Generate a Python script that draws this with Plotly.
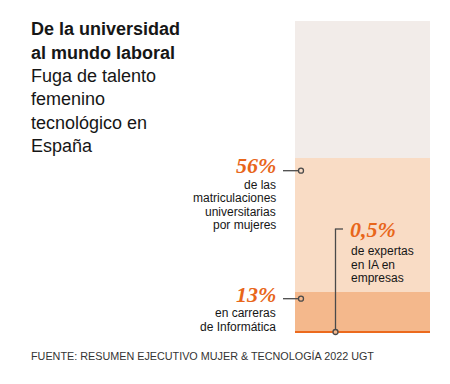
import plotly.graph_objects as go

# ---- data ----
series = ["Total", "Matriculaciones universitarias por mujeres",
          "Mujeres en carreras de Informática", "Expertas en IA en empresas"]
values = [100, 56, 13, 0.5]
bar_colors = ["#f2ece9", "#f9dcc5", "#f4b88c", "#ec6a1d"]

title_bold = ["De la universidad", "al mundo laboral"]
title_regular = ["Fuga de talento", "femenino", "tecnológico en", "España"]
pct_labels = ["56%", "13%", "0,5%"]
desc_56 = ["de las", "matriculaciones", "universitarias", "por mujeres"]
desc_13 = ["en carreras", "de Informática"]
desc_05 = ["de expertas", "en IA en", "empresas"]
source = "FUENTE: RESUMEN EJECUTIVO MUJER & TECNOLOGÍA 2022 UGT"

W, H = 450, 384
SANS = "Liberation Sans, Arial, sans-serif"
SERIF = "Liberation Serif, Times New Roman, serif"
ORANGE = "#e8661a"
INK = "#161616"
LINE = "#4a4a4a"


def px(x):
    return x / W


def py(y):
    return 1 - y / H


fig = go.Figure()
for name, v, c in zip(series, values, bar_colors):
    fig.add_trace(go.Bar(x=[0], y=[v], name=name, marker=dict(color=c, line=dict(width=0)),
                         width=1, hoverinfo="skip", showlegend=False))

ann = []


def text(t, x, y, size, xanchor="left", color=INK, bold=False, family=SANS, italic=False):
    ann.append(dict(text=("<b>%s</b>" % t) if bold else t, x=px(x), y=py(y),
                    xref="paper", yref="paper", xanchor=xanchor, yanchor="middle",
                    showarrow=False,
                    font=dict(size=size, color=color, family=family,
                              style="italic" if italic else "normal")))


# title
y0 = 29.5
step = 23.3
lines = [(t, True) for t in title_bold] + [(t, False) for t in title_regular]
for i, (t, b) in enumerate(lines):
    text(t, 29, y0 + i * step, 18, bold=b)

# percentages
PS = 22
text("<b>%s</b>" % pct_labels[0], 278, 165, PS, xanchor="right", color=ORANGE, family=SERIF, italic=True)
text("<b>%s</b>" % pct_labels[1], 278, 294.5, PS, xanchor="right", color=ORANGE, family=SERIF, italic=True)
text("<b>%s</b>" % pct_labels[2], 348, 229, PS, xanchor="left", color=ORANGE, family=SERIF, italic=True)

FS = 12
LS = 13.5
for i, t in enumerate(desc_56):
    text(t, 278, 184.5 + i * LS, FS, xanchor="right")
for i, t in enumerate(desc_13):
    text(t, 278, 313 + i * LS, FS, xanchor="right")
for i, t in enumerate(desc_05):
    text(t, 349, 251 + i * LS, FS, xanchor="left")

text(source, 29, 356, 10.8, color="#333333")

shapes = []


def line(x0, y0_, x1, y1):
    shapes.append(dict(type="line", xref="paper", yref="paper", x0=px(x0), y0=py(y0_),
                       x1=px(x1), y1=py(y1), line=dict(color=LINE, width=1.3)))


def dot(x, y, fill):
    r = 2.5
    shapes.append(dict(type="circle", xref="paper", yref="paper", x0=px(x - r), y0=py(y + r),
                       x1=px(x + r), y1=py(y - r), fillcolor=fill, line=dict(color=LINE, width=1.3)))


line(283, 170.7, 298.5, 170.7)
dot(301, 170.7, bar_colors[1])
line(283, 298.7, 298.5, 298.7)
dot(301, 298.7, bar_colors[2])
line(335.5, 330, 335.5, 229)
line(334.9, 229, 343, 229)
dot(335.5, 332, bar_colors[2])

fig.update_layout(
    width=W, height=H, margin=dict(l=0, r=0, t=0, b=0),
    paper_bgcolor="white", plot_bgcolor="white", barmode="overlay", bargap=0,
    xaxis=dict(domain=[295 / W, 430 / W], range=[-0.5, 0.5], visible=False, fixedrange=True),
    yaxis=dict(domain=[py(333), py(21)], range=[0, 100], visible=False, fixedrange=True),
    annotations=ann, shapes=shapes, showlegend=False,
)

fig.write_html("out.html", config={"displayModeBar": False},
               post_script="document.body.style.margin='0';document.body.style.overflow='hidden';")
